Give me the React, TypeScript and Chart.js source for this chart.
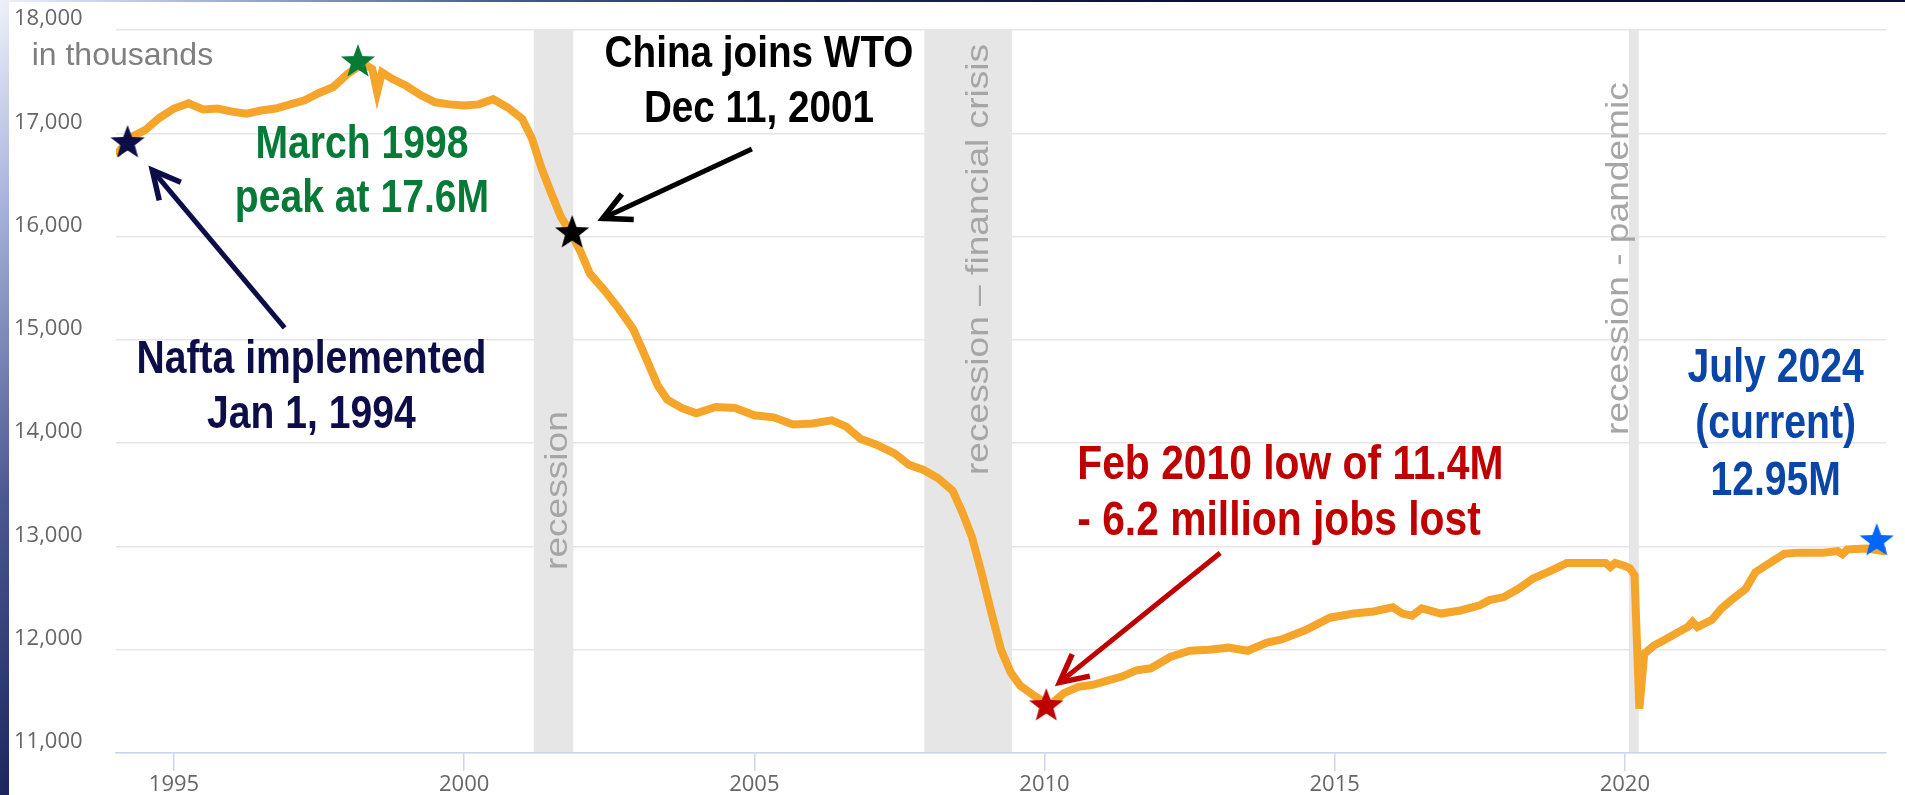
import { useEffect, useRef } from "react";
import { Chart, registerables } from "chart.js";

Chart.register(...registerables);

// ---------------- data ----------------
const MONTHS = [
  "1994-01","1994-04","1994-07","1994-10","1995-01","1995-04","1995-07","1995-10",
  "1996-01","1996-04","1996-07","1996-10","1997-01","1997-04","1997-07","1997-10",
  "1998-01","1998-03","1998-05","1998-06","1998-07","1998-08","1998-10",
  "1999-01","1999-04","1999-07","1999-10","2000-01","2000-04","2000-07","2000-10",
  "2001-01","2001-03","2001-05","2001-07","2001-09","2001-11",
  "2002-01","2002-03","2002-06","2002-09","2002-12",
  "2003-03","2003-05","2003-07","2003-10","2004-01","2004-05","2004-09",
  "2005-01","2005-05","2005-09","2006-01","2006-05","2006-08","2006-11",
  "2007-02","2007-06","2007-09","2007-12","2008-03","2008-06","2008-08","2008-10","2008-12",
  "2009-02","2009-04","2009-06","2009-08","2009-11",
  "2010-02","2010-05","2010-08","2010-11","2011-02","2011-05","2011-08","2011-11",
  "2012-03","2012-07","2012-11","2013-03","2013-07","2013-11",
  "2014-02","2014-07","2014-12","2015-05","2015-09",
  "2016-01","2016-03","2016-05","2016-07","2016-11",
  "2017-03","2017-07","2017-09","2017-12","2018-03","2018-06","2018-10",
  "2019-01","2019-05","2019-09","2019-10","2019-11",
  "2020-01","2020-02","2020-03","2020-04","2020-05","2020-07","2020-09","2020-12",
  "2021-02","2021-03","2021-04","2021-07","2021-09","2021-11",
  "2022-02","2022-04","2022-07","2022-10",
  "2023-01","2023-06","2023-09","2023-10","2023-11","2024-03","2024-07",
];

const MANUFACTURING_JOBS = [
  16790,16960,17030,17150,17240,17290,17230,17240,
  17210,17190,17220,17240,17280,17320,17390,17450,
  17580,17640,17650,17620,17400,17590,17530,
  17460,17370,17300,17280,17270,17280,17330,17250,
  17140,16950,16660,16420,16190,16040,
  15860,15640,15480,15300,15100,
  14780,14560,14420,14340,14290,14350,14340,
  14270,14250,14180,14190,14220,14160,14040,
  13990,13900,13790,13740,13660,13540,13330,13090,12740,
  12360,12000,11780,11650,11550,
  11460,11580,11640,11660,11700,11740,11800,11820,
  11930,11990,12000,12020,11990,12070,
  12100,12190,12310,12350,12370,
  12410,12350,12330,12400,12350,
  12380,12430,12480,12510,12590,12690,12770,
  12840,12840,12840,12800,12840,
  12810,12790,12720,11430,11960,12040,12090,12170,
  12220,12270,12220,12290,12400,12480,
  12590,12750,12840,12930,
  12940,12940,12955,12925,12970,12980,12950,
];

const Y_TICKS = [11000, 12000, 13000, 14000, 15000, 16000, 17000, 18000];
const X_TICKS = [1995, 2000, 2005, 2010, 2015, 2020];
const X_MIN = 1994;
const X_MAX = 2024.5;

const RECESSION_STARTS = [2001.2, 2007.93, 2020.07];
const RECESSION_ENDS = [2001.88, 2009.44, 2020.24];
const RECESSION_LABELS = ["recession", "recession \u2013 financial crisis", "recession - pandemic"];

const STAR_DATES = [1994.2, 1998.17, 2001.86, 2010.03, 2024.34];
const STAR_VALUES = [16906, 17690, 16034, 11455, 13052];
const STAR_COLORS = ["#0d0d48", "#077a37", "#000000", "#c00000", "#0066ff"];

// ---------------- annotation layout ----------------
const RECESSION_LABEL_AT = [
  [2001.778, 12772],
  [2009.026, 13691],
  [2020.051, 14079],
];

const NOTES = [
  { lines: ["Nafta implemented", "Jan 1, 1994"], at: [1997.368, 14679], color: "#0d0d48", align: "center", size: 46, sx: 0.85, lh: 55 },
  { lines: ["March 1998", "peak at 17.6M"], at: [1998.239, 16761], color: "#077a37", align: "center", size: 46, sx: 0.85, lh: 54 },
  { lines: ["China joins WTO", "Dec 11, 2001"], at: [2005.08, 17642], color: "#000000", align: "center", size: 45, sx: 0.86, lh: 55 },
  { lines: ["Feb 2010 low of 11.4M", "- 6.2 million jobs lost"], at: [2010.564, 13653], color: "#c00000", align: "left", size: 48, sx: 0.85, lh: 56 },
  { lines: ["July 2024", "(current)", "12.95M"], at: [2022.598, 14592], color: "#0a46a8", align: "center", size: 48, sx: 0.815, lh: 56.5 },
];

const ARROWS = [
  { from: [1996.906, 15115], to: [1994.581, 16673], color: "#0d0d48" },
  { from: [2004.957, 16848], to: [2002.325, 16160], color: "#000000" },
  { from: [2013.026, 12936], to: [2010.205, 11658], color: "#c00000" },
];

const UNIT_LABEL = { text: "in thousands", at: [1992.547, 17661] };

function toYear(m: string): number {
  const [y, mo] = m.split("-").map(Number);
  return y + (mo - 1) / 12;
}

function makeStar(color: string, r: number): HTMLCanvasElement {
  const c = document.createElement("canvas");
  const s = Math.ceil(r * 2 + 4);
  c.width = s;
  c.height = s;
  const g = c.getContext("2d")!;
  g.translate(s / 2, s / 2);
  g.beginPath();
  for (let k = 0; k < 10; k++) {
    const rr = k % 2 === 0 ? r : r * 0.42;
    const a = -Math.PI / 2 + (k * Math.PI) / 5;
    g.lineTo(rr * Math.cos(a), rr * Math.sin(a));
  }
  g.closePath();
  g.fillStyle = color;
  g.fill();
  return c;
}

const framePlugin = {
  id: "frame",
  beforeDraw(chart: any) {
    const { ctx, width, height } = chart;
    ctx.save();
    const g = ctx.createLinearGradient(0, 0, 600, 600);
    g.addColorStop(0, "#eef1fa");
    g.addColorStop(0.17, "#a8b4dc");
    g.addColorStop(0.42, "#4a5890");
    g.addColorStop(0.66, "#1e2860");
    g.addColorStop(1, "#0c0c3c");
    ctx.fillStyle = g;
    ctx.fillRect(0, 0, width, height);
    ctx.fillStyle = "#ffffff";
    ctx.fillRect(9, 2, width - 9, height - 2);
    ctx.restore();
  },
};

const bandsPlugin = {
  id: "bands",
  beforeDatasetsDraw(chart: any) {
    const { ctx, chartArea, scales } = chart;
    const xs = scales.x;
    const ys = scales.y;
    ctx.save();
    ctx.fillStyle = "#e6e6e6";
    for (let i = 0; i < RECESSION_STARTS.length; i++) {
      const x0 = xs.getPixelForValue(RECESSION_STARTS[i]);
      const x1 = xs.getPixelForValue(RECESSION_ENDS[i]);
      ctx.fillRect(x0, chartArea.top, x1 - x0, chartArea.bottom - chartArea.top - 1);
    }
    ctx.fillStyle = "#a6a6a6";
    ctx.font = '32px "Liberation Sans", Arial, sans-serif';
    ctx.textAlign = "left";
    ctx.textBaseline = "alphabetic";
    for (let i = 0; i < RECESSION_LABELS.length; i++) {
      const px = xs.getPixelForValue(RECESSION_LABEL_AT[i][0]);
      const py = ys.getPixelForValue(RECESSION_LABEL_AT[i][1]);
      ctx.save();
      ctx.translate(px, py);
      ctx.rotate(-Math.PI / 2);
      ctx.scale(1.16, 1);
      ctx.fillText(RECESSION_LABELS[i], 0, 0);
      ctx.restore();
    }
    ctx.restore();
  },
};

function drawArrow(ctx: CanvasRenderingContext2D, x0: number, y0: number, x1: number, y1: number, color: string) {
  ctx.save();
  ctx.strokeStyle = color;
  ctx.lineWidth = 5;
  ctx.lineCap = "butt";
  const ang = Math.atan2(y0 - y1, x0 - x1);
  ctx.beginPath();
  ctx.moveTo(x0, y0);
  ctx.lineTo(x1 + 3 * Math.cos(ang), y1 + 3 * Math.sin(ang));
  ctx.stroke();
  const L = 31;
  const spread = (27 * Math.PI) / 180;
  const tx = x1 + 4 * Math.cos(ang);
  const ty = y1 + 4 * Math.sin(ang);
  ctx.lineWidth = 5.5;
  ctx.lineJoin = "miter";
  ctx.beginPath();
  ctx.moveTo(tx + L * Math.cos(ang - spread), ty + L * Math.sin(ang - spread));
  ctx.lineTo(tx, ty);
  ctx.lineTo(tx + L * Math.cos(ang + spread), ty + L * Math.sin(ang + spread));
  ctx.stroke();
  ctx.restore();
}

const notesPlugin = {
  id: "notes",
  afterDatasetsDraw(chart: any) {
    const { ctx, scales } = chart;
    const xs = scales.x;
    const ys = scales.y;
    ctx.save();
    ctx.font = '32px "Liberation Sans", Arial, sans-serif';
    ctx.fillStyle = "#7f7f7f";
    ctx.textAlign = "left";
    ctx.textBaseline = "alphabetic";
    ctx.fillText(UNIT_LABEL.text, xs.getPixelForValue(UNIT_LABEL.at[0]), ys.getPixelForValue(UNIT_LABEL.at[1]));

    for (const a of ARROWS) {
      drawArrow(
        ctx,
        xs.getPixelForValue(a.from[0]),
        ys.getPixelForValue(a.from[1]),
        xs.getPixelForValue(a.to[0]),
        ys.getPixelForValue(a.to[1]),
        a.color
      );
    }

    for (const n of NOTES) {
      const px = xs.getPixelForValue(n.at[0]);
      const py = ys.getPixelForValue(n.at[1]);
      ctx.font = `bold ${n.size}px "Liberation Sans", Arial, sans-serif`;
      ctx.fillStyle = n.color;
      ctx.textAlign = n.align as CanvasTextAlign;
      n.lines.forEach((t, i) => {
        ctx.save();
        ctx.translate(px, py + i * n.lh);
        ctx.scale(n.sx, 1);
        ctx.fillText(t, 0, 0);
        ctx.restore();
      });
    }
    ctx.restore();
  },
};

export default function App() {
  const ref = useRef<HTMLCanvasElement | null>(null);

  useEffect(() => {
    if (!ref.current) return;
    const lineData = MONTHS.map((m, i) => ({ x: toYear(m), y: MANUFACTURING_JOBS[i] }));
    const starData = STAR_DATES.map((d, i) => ({ x: d, y: STAR_VALUES[i] }));
    const starStyles = STAR_COLORS.map((c) => makeStar(c, 18));

    const chart = new Chart(ref.current, {
      type: "line",
      data: {
        datasets: [
          {
            data: starData,
            showLine: false,
            pointStyle: starStyles as any,
            pointRadius: 18,
            order: 0,
            clip: false as any,
          } as any,
          {
            data: lineData,
            borderColor: "#f5a52a",
            borderWidth: 8,
            pointRadius: 0,
            tension: 0,
            borderJoinStyle: "miter",
            fill: false,
            order: 1,
          } as any,
        ],
      },
      options: {
        responsive: false,
        animation: false,
        events: [],
        layout: { padding: { left: 14, right: 2, top: 30, bottom: 0 } },
        plugins: { legend: { display: false }, tooltip: { enabled: false } },
        scales: {
          x: {
            type: "linear",
            min: X_MIN,
            max: X_MAX,
            afterBuildTicks: (s: any) => {
              s.ticks = X_TICKS.map((v) => ({ value: v }));
            },
            afterFit: (s: any) => {
              s.height = 42;
            },
            grid: {
              drawOnChartArea: false,
              drawTicks: true,
              tickLength: 18,
              color: "#ccd6eb",
              lineWidth: 1.5,
            },
            border: { display: true, color: "#ccd6eb", width: 1.5 },
            ticks: {
              autoSkip: false,
              maxRotation: 0,
              padding: 1,
              color: "#666666",
              font: { family: '"Open Sans", sans-serif', size: 22 },
              callback: (v: any) => String(v),
            },
          },
          y: {
            type: "linear",
            min: 11000,
            max: 18000,
            afterBuildTicks: (s: any) => {
              s.ticks = Y_TICKS.map((v) => ({ value: v }));
            },
            afterFit: (s: any) => {
              s.width = 102;
            },
            grid: { color: "#e6e6e6", lineWidth: 1.5, drawTicks: false },
            border: { display: false },
            ticks: {
              crossAlign: "far",
              labelOffset: -11,
              padding: 0,
              color: "#666666",
              font: { family: '"Open Sans", sans-serif', size: 22 },
              callback: (v: any) => Number(v).toLocaleString("en-US"),
            },
          },
        },
      },
      plugins: [framePlugin, bandsPlugin, notesPlugin],
    });
    return () => chart.destroy();
  }, []);

  return (
    <div style={{ position: "fixed", left: 0, top: 0, width: 1905, height: 795 }}>
      <canvas ref={ref} width={1905} height={795} style={{ display: "block" }} />
    </div>
  );
}
